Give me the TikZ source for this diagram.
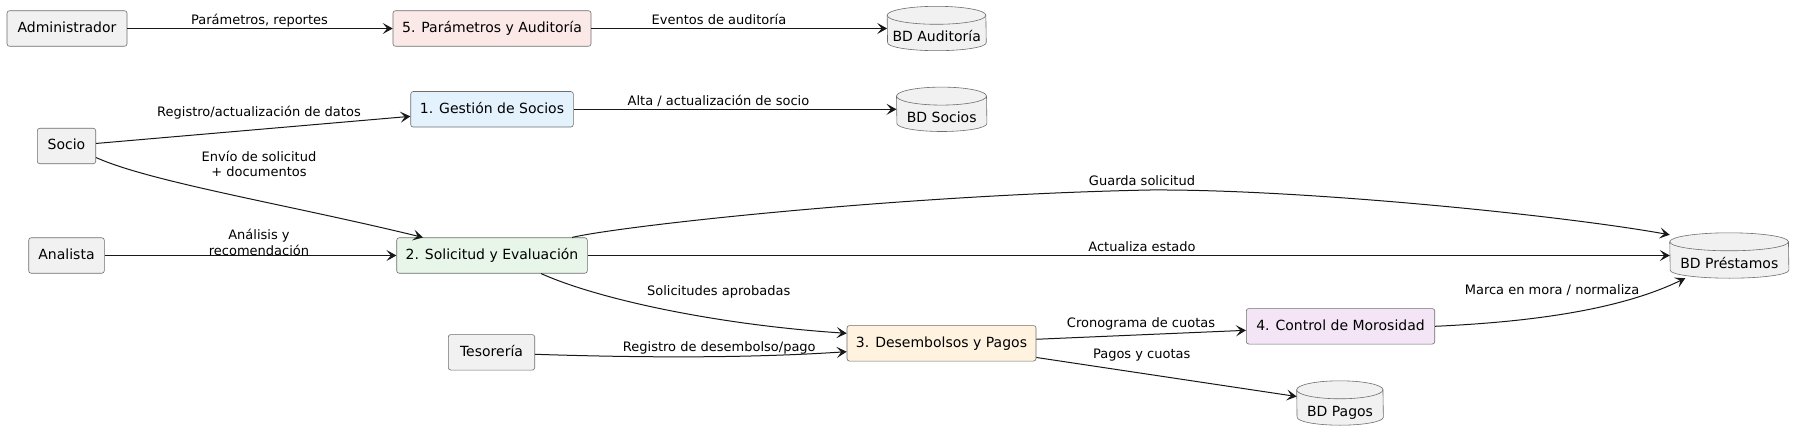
\documentclass[tikz,border=0pt]{standalone}
\usepackage{fontspec}
\setmainfont{DejaVu Sans}
\usetikzlibrary{arrows.meta,calc}
\definecolor{actfill}{HTML}{F1F1F1}
\definecolor{bordc}{HTML}{6E6E6E}
\definecolor{arrc}{HTML}{181818}
\definecolor{fpfive}{HTML}{FBE9E7}
\definecolor{fpone}{HTML}{E3F2FD}
\definecolor{fptwo}{HTML}{E8F5E9}
\definecolor{fpthree}{HTML}{FFF3E0}
\definecolor{fpfour}{HTML}{F3E5F5}
\tikzset{
  box/.style={draw=bordc, line width=0.6pt, rounded corners=2.5pt, minimum height=35.5pt,
    inner sep=0pt, text height=10.5pt, text depth=3pt, font=\fontsize{14}{16}\selectfont},
  actor/.style={box, fill=actfill},
  db/.style={minimum height=44pt, inner sep=0pt},
  dbtxt/.style={inner sep=0pt, text height=10.5pt, text depth=3pt, font=\fontsize{14}{16}\selectfont},
  lbl/.style={font=\fontsize{13}{15.5}\selectfont, inner sep=0pt, align=center, anchor=base},
  mlbl/.style={font=\fontsize{13}{15.5}\selectfont, inner sep=0pt, align=center},
  arr/.style={draw=arrc, line width=1pt, -{Stealth[length=10pt,width=11pt,inset=4.5pt]}},
}
\newcommand{\dbdraw}[2]{%
  \draw[draw=bordc, line width=0.6pt, fill=actfill] ($(#1.north west)+(0,9)$)
    arc[start angle=180,end angle=0,x radius=#2pt,y radius=9pt]
    -- ($(#1.south east)+(0,-8)$)
    arc[start angle=0,end angle=-180,x radius=#2pt,y radius=8pt] -- cycle;
  \draw[draw=bordc, line width=0.6pt] ($(#1.north west)+(0,9)$)
    arc[start angle=180,end angle=360,x radius=#2pt,y radius=9pt];
}
\begin{document}
\begin{tikzpicture}[x=1pt,y=-1pt]
\fill[white] (0,0) rectangle (1804,441);
\useasboundingbox (0,0) rectangle (1804,441);

% actors
\node[actor, minimum width=120pt] (adm) at (67,28.5) {Administrador};
\node[actor, minimum width=58.4pt] (socio) at (66.5,146) {Socio};
\node[actor, minimum width=75.6pt] (ana) at (66.5,255.5) {Analista};
\node[actor, minimum width=86.4pt] (tes) at (491.5,352.3) {Tesorería};

% processes
\node[box, fill=fpfive, minimum width=198pt] (p5) at (492,28.5) {5. Parámetros y Auditoría};
\node[box, fill=fpone, minimum width=162.6pt] (p1) at (492,109.3) {1. Gestión de Socios};
\node[box, fill=fptwo, minimum width=190.6pt] (p2) at (492,255.5) {2. Solicitud y Evaluación};
\node[box, fill=fpthree, minimum width=189pt] (p3) at (941.5,343.3) {3. Desembolsos y Pagos};
\node[box, fill=fpfour, minimum width=188.4pt] (p4) at (1340.5,326.3) {4. Control de Morosidad};

% databases
\node[db, minimum width=98.7pt] (bda) at (936.7,28.5) {};
\dbdraw{bda}{49.35}
\node[dbtxt] (bdat) at ($(bda.center)+(0,9.5)$) {BD Auditoría};
\node[db, minimum width=90pt] (bds) at (941.7,109.3) {};
\dbdraw{bds}{45}
\node[dbtxt] (bdst) at ($(bds.center)+(0,9.5)$) {BD Socios};
\node[db, minimum width=118.7pt, minimum height=45pt] (bdp) at (1729.3,255.5) {};
\dbdraw{bdp}{59.35}
\node[dbtxt] (bdpt) at ($(bdp.center)+(0,9.5)$) {BD Préstamos};
\node[db, minimum width=86.3pt] (bdpag) at (1340,403) {};
\dbdraw{bdpag}{43.15}
\node[dbtxt] (bdpagt) at ($(bdpag.center)+(0,9.5)$) {BD Pagos};

% connectors
\draw[arr] (adm) -- (p5);
\draw[arr] (p5) -- (bda);
\draw[arr] (socio) -- (p1);
\draw[arr] (p1) -- (bds);
\draw[arr] ([yshift=-11.5pt]socio.east) .. controls (150,182) and (290,205) .. ([xshift=-69pt]p2.north);
\draw[arr] (ana) -- (p2);
\draw[arr] ([xshift=80pt]p2.north) .. controls (620,226) and (900,195) .. (1150,190)
  .. controls (1300,189) and (1560,215) .. ([yshift=-2pt]bdp.north west);
\draw[arr] (p2) -- (bdp);
\draw[arr] ([xshift=49pt]p2.south) .. controls (600,300) and (720,325) .. ([yshift=10pt]p3.west);
\draw[arr] ([yshift=-2pt]tes.east) .. controls (650,358) and (750,358) .. ([yshift=-8.4pt]p3.west);
\draw[arr] (p3) -- (p4);
\draw[arr] (p3) -- (bdpag);
\draw[arr] (p4.east) .. controls (1530,322) and (1620,310) .. ([xshift=-44pt]bdp.south);

% labels
\node[lbl] (l1) at (259.5,25) {Parámetros, reportes};
\node[lbl] (l2) at (719,25) {Eventos de auditoría};
\node[lbl] (l3) at (259,117) {Registro/actualización de datos};
\node[lbl] (l4) at (718.5,105.5) {Alta / actualización de socio};
\node[mlbl] (l5) at (259,164) {Envío de solicitud\\+ documentos};
\node[mlbl] (l6) at (259,242.5) {Análisis y\\recomendación};
\node[lbl] (l7) at (1142,185) {Guarda solicitud};
\node[lbl] (l8) at (1142,251.8) {Actualiza estado};
\node[lbl] (l9) at (718.7,295) {Solicitudes aprobadas};
\node[lbl] (l10) at (719.3,351.8) {Registro de desembolso/pago};
\node[lbl] (l11) at (1141,327.8) {Cronograma de cuotas};
\node[lbl] (l12) at (1141.7,358.5) {Pagos y cuotas};
\node[lbl] (l13) at (1552,294.5) {Marca en mora / normaliza};
\end{tikzpicture}
\end{document}
